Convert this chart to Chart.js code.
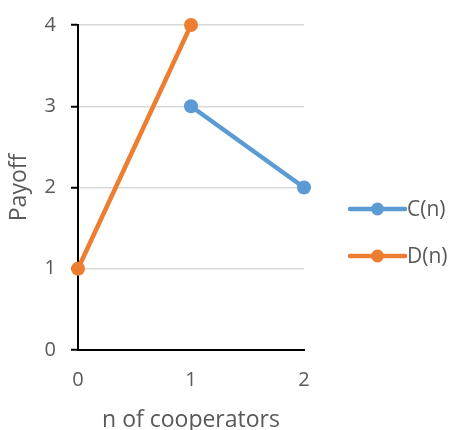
<!DOCTYPE html>
<html>
<head>
<meta charset="utf-8">
<script src="https://cdn.jsdelivr.net/npm/chart.js@4/dist/chart.umd.min.js"></script>
<style>
  html, body { margin: 0; padding: 0; background: #fff; }
  #wrap { width: 452px; height: 430px; position: relative; }
</style>
</head>
<body>
<div id="wrap"><canvas id="c"></canvas></div>
<script>
// Payoff of cooperators C(n) and defectors D(n) against number of cooperators n
const categories = ['0', '1', '2'];
const cooperatorPayoff = [null, 3, 2];
const defectorPayoff = [1, 4, null];
const yTicks = [0, 1, 2, 3, 4];
const seriesNames = ['C(n)', 'D(n)'];
const seriesColors = ['#5B9BD5', '#ED7D31'];

const FONT = "'Open Sans', 'Noto Sans', sans-serif";
const TEXT = '#595959';

// Legend drawn as line + marker samples to the right of the plot
const sideLegend = {
  id: 'sideLegend',
  afterDraw(chart) {
    const ctx = chart.ctx;
    const a = chart.chartArea;
    chart.data.datasets.forEach((ds, i) => {
      const y = a.top + 184 + i * 47;
      const x0 = a.right + 46, x1 = a.right + 101;
      ctx.save();
      ctx.strokeStyle = ds.borderColor;
      ctx.lineWidth = 4.5;
      ctx.lineCap = 'round';
      ctx.beginPath();
      ctx.moveTo(x0, y);
      ctx.lineTo(x1, y);
      ctx.stroke();
      ctx.fillStyle = ds.borderColor;
      ctx.beginPath();
      ctx.arc((x0 + x1) / 2, y, 6.5, 0, Math.PI * 2);
      ctx.fill();
      ctx.fillStyle = TEXT;
      ctx.font = '21px ' + FONT;
      ctx.textBaseline = 'middle';
      ctx.textAlign = 'left';
      ctx.fillText(ds.label, x1 + 2, y + 1);
      ctx.restore();
    });
  }
};

function series(i, values) {
  return {
    label: seriesNames[i],
    data: values,
    borderColor: seriesColors[i],
    backgroundColor: seriesColors[i],
    borderWidth: 4.5,
    pointRadius: 7,
    pointHoverRadius: 7,
    pointBorderWidth: 0,
    borderCapStyle: 'round',
    spanGaps: false,
    clip: false
  };
}

new Chart(document.getElementById('c'), {
  type: 'line',
  data: {
    labels: categories,
    datasets: [series(0, cooperatorPayoff), series(1, defectorPayoff)]
  },
  options: {
    responsive: true,
    maintainAspectRatio: false,
    animation: false,
    layout: { padding: { top: 25, right: 148, bottom: 0, left: 0 } },
    plugins: {
      legend: { display: false },
      tooltip: { enabled: false }
    },
    scales: {
      x: {
        type: 'category',
        offset: false,
        grid: { display: false, drawTicks: false },
        border: { display: true, color: '#000', width: 2 },
        ticks: { color: TEXT, font: { family: FONT, size: 20, lineHeight: 1 }, padding: 20 },
        title: {
          display: true,
          text: 'n of cooperators',
          color: TEXT,
          font: { family: FONT, size: 23, lineHeight: 1 },
          padding: { top: 4, bottom: -2 }
        },
        afterFit(scale) { scale.height = 80; }
      },
      y: {
        min: 0,
        max: 4,
        afterBuildTicks(scale) { scale.ticks = yTicks.map(v => ({ value: v })); },
        grid: {
          color: '#d9d9d9',
          lineWidth: 1.5,
          tickColor: '#000',
          tickLength: 7,
          tickWidth: 2
        },
        border: { display: true, color: '#000', width: 2 },
        ticks: { color: TEXT, font: { family: FONT, size: 20, lineHeight: 1 }, padding: 15 },
        title: {
          display: true,
          text: 'Payoff',
          color: TEXT,
          font: { family: FONT, size: 23, lineHeight: 1 },
          padding: { top: 8, bottom: 4 }
        },
        afterFit(scale) { scale.width = 78; }
      }
    }
  },
  plugins: [sideLegend]
});
</script>
</body>
</html>
